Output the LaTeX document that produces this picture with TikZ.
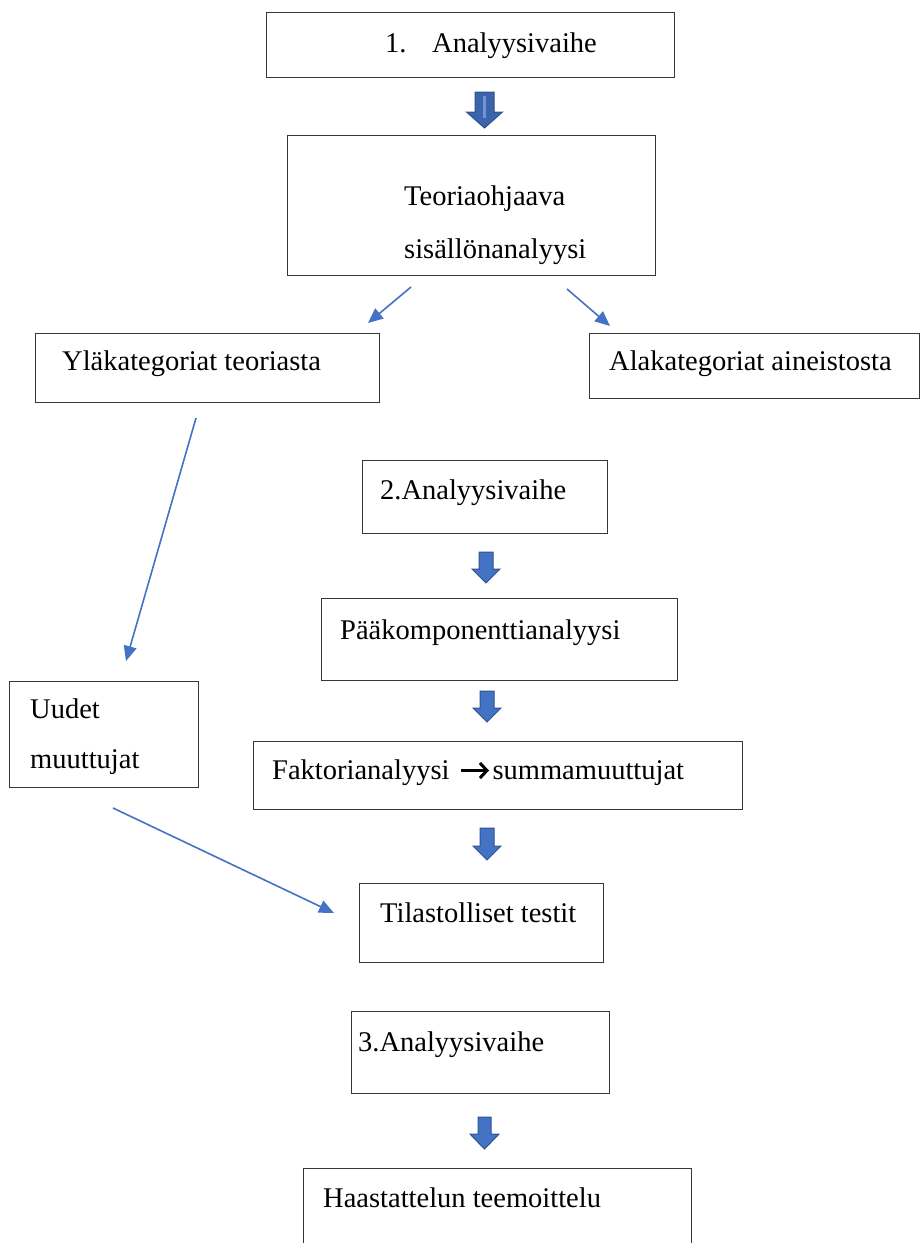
\documentclass[tikz,border=0pt]{standalone}
\usepackage{fontspec}
\setmainfont{Liberation Serif}
\usetikzlibrary{arrows.meta}
\definecolor{boxline}{RGB}{55,55,55}
\definecolor{arrblue}{RGB}{68,114,196}
\definecolor{arrdark}{RGB}{47,82,143}
\definecolor{arrfirst}{RGB}{60,100,170}
\definecolor{arrlight}{RGB}{110,150,215}
\newcommand\fatarrow[7]{%
  \draw[fat, fill=#7] (#1-#4,#2) -- (#1+#4,#2) -- (#1+#4,#3-#6) -- (#1+#5,#3-#6) -- (#1,#3)
    -- (#1-#5,#3-#6) -- (#1-#4,#3-#6) -- cycle;}
\begin{document}
\begin{tikzpicture}[x=1pt,y=-1pt,
  box/.style={draw=boxline, line width=1.4pt, inner sep=0pt, anchor=north west},
  txt/.style={anchor=base west, inner sep=0pt, font=\fontsize{28.5}{34}\selectfont},
  thinarrow/.style={draw=arrblue, line width=1.6pt, -{Triangle[length=15pt,width=13pt]}},
  fat/.style={draw=arrdark, line width=1pt}]
\useasboundingbox (0,0) rectangle (920,1243);
% boxes
\node[box, minimum width=408, minimum height=65] (b1) at (266,12) {};
\node[box, minimum width=368, minimum height=140] (b2) at (287,135) {};
\node[box, minimum width=344, minimum height=69] (b3) at (35,333) {};
\node[box, minimum width=330, minimum height=65] (b4) at (589,333) {};
\node[box, minimum width=245, minimum height=73] (b5) at (362,460) {};
\node[box, minimum width=356, minimum height=82] (b6) at (321,598) {};
\node[box, minimum width=189, minimum height=106] (b7) at (9,681) {};
\node[box, minimum width=489, minimum height=68] (b8) at (253,741) {};
\node[box, minimum width=244, minimum height=79] (b9) at (359,883) {};
\node[box, minimum width=258, minimum height=82] (b10) at (351,1011) {};
\node[box, minimum width=388, minimum height=90] (b11) at (303,1168) {};
% texts
\node[txt] (t1) at (385,52) {\makebox[47pt][l]{1.}Analyysivaihe};
\node[txt] (t2a) at (404,205) {Teoriaohjaava};
\node[txt] (t2b) at (404,258) {sisällönanalyysi};
\node[txt] (t3) at (62,370) {Yläkategoriat teoriasta};
\node[txt] (t4) at (609,370) {Alakategoriat aineistosta};
\node[txt] (t5) at (380,499) {2.Analyysivaihe};
\node[txt] (t6) at (340,639) {Pääkomponenttianalyysi};
\node[txt] (t7a) at (30,718) {Uudet};
\node[txt] (t7b) at (30,768) {muuttujat};
\node[txt] (t8) at (272,779) {Faktorianalyysi\hspace{10pt}\tikz[baseline=-8.5pt]{\draw[line width=3pt,-{Straight Barb[length=7pt,width=15pt,line width=3pt]}] (0,0) -- (28,0);}\hspace{2pt}summamuuttujat};
\node[txt] (t9) at (380,922) {Tilastolliset testit};
\node[txt] (t10) at (358,1051) {3.Analyysivaihe};
\node[txt] (t11) at (323,1207) {Haastattelun teemoittelu};
% fat arrows
\fatarrow{484.5}{92}{128}{9.5}{18}{16}{arrfirst}
\draw[arrlight, line width=3pt] (484.5,96) -- (484.5,118);
\fatarrow{486}{552}{583}{7}{14}{14}{arrblue}
\fatarrow{487}{691}{722}{7}{14}{14}{arrblue}
\fatarrow{487}{828}{860}{7}{14}{14}{arrblue}
\fatarrow{484.5}{1117}{1149}{6.5}{14.5}{15}{arrblue}
% thin arrows
\coordinate (a1s) at (411,287); \coordinate (a1e) at (368,323);
\coordinate (a2s) at (567,289); \coordinate (a2e) at (610,326);
\coordinate (a3s) at (196,418); \coordinate (a3e) at (126,661);
\coordinate (a4s) at (113,808); \coordinate (a4e) at (334,913);
\draw[thinarrow] (a1s) -- (a1e);
\draw[thinarrow] (a2s) -- (a2e);
\draw[thinarrow] (a3s) -- (a3e);
\draw[thinarrow] (a4s) -- (a4e);
\end{tikzpicture}
\end{document}
